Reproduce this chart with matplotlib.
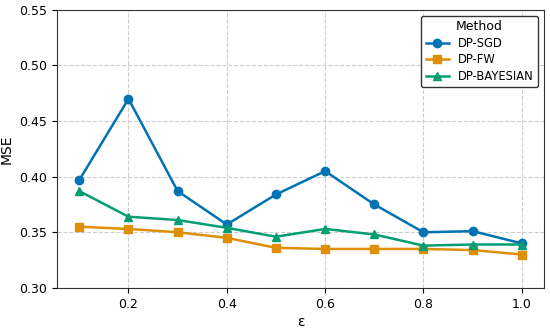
import matplotlib
matplotlib.use("Agg")
import matplotlib.pyplot as plt

eps = [0.1, 0.2, 0.3, 0.4, 0.5, 0.6, 0.7, 0.8, 0.9, 1.0]
dp_sgd = [0.397, 0.470, 0.387, 0.357, 0.384, 0.405, 0.375, 0.350, 0.351, 0.340]
dp_fw = [0.355, 0.353, 0.350, 0.345, 0.336, 0.335, 0.335, 0.335, 0.334, 0.330]
dp_bayes = [0.387, 0.364, 0.361, 0.354, 0.346, 0.353, 0.348, 0.338, 0.339, 0.339]

series = [
    ("DP-SGD", dp_sgd, "o", "#0173B2"),
    ("DP-FW", dp_fw, "s", "#DE8F05"),
    ("DP-BAYESIAN", dp_bayes, "^", "#029E73"),
]

fig, ax = plt.subplots(figsize=(5.5, 3.29), dpi=100)
for name, vals, marker, color in series:
    ax.plot(eps, vals, marker=marker, color=color, label=name,
            linewidth=1.8, markersize=6)

ax.set_ylim(0.30, 0.55)
ax.set_xlim(0.055, 1.045)
ax.set_xticks([0.2, 0.4, 0.6, 0.8, 1.0])
ax.set_yticks([0.30, 0.35, 0.40, 0.45, 0.50, 0.55])
ax.set_xlabel("ε", fontsize=10, labelpad=3)
ax.set_ylabel("MSE", fontsize=10, labelpad=4)
ax.tick_params(labelsize=9)
ax.grid(True, linestyle="--", color="#cccccc", linewidth=0.8)
for s in ax.spines.values():
    s.set_color("#333333")

leg = ax.legend(title="Method", loc="upper right", fontsize=8.3,
                title_fontsize=9, fancybox=True, framealpha=1,
                handlelength=2.0, borderpad=0.4, labelspacing=0.3)
leg.get_frame().set_edgecolor("#333333")

fig.subplots_adjust(left=0.104, right=0.989, top=0.97, bottom=0.125)
fig.savefig("out.png", dpi=100)
